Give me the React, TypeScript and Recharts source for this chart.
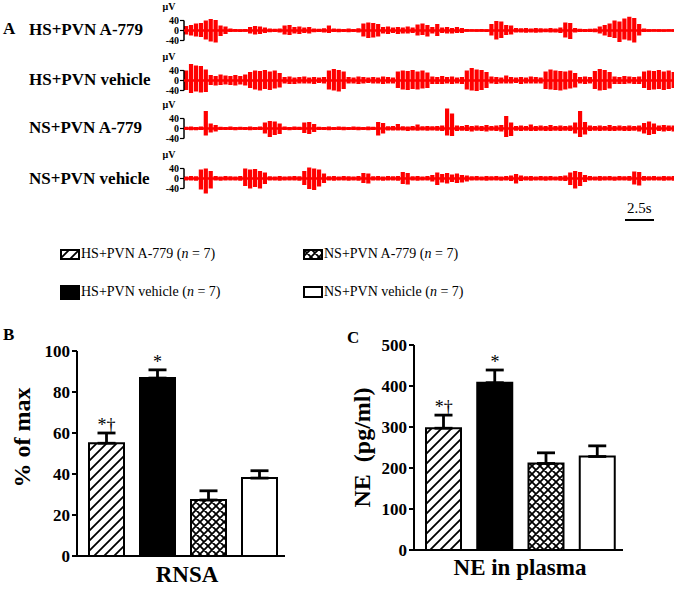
import React from "react";
import {
  ComposedChart,
  XAxis,
  YAxis,
  ReferenceLine,
  BarChart,
  Bar,
  Cell,
  ErrorBar,
  ReferenceDot,
} from "recharts";

const SERIF = "'Liberation Serif', 'Times New Roman', Times, serif";

// groups, n per group, significance marks
const groups = ["HS+PVN A-779", "HS+PVN vehicle", "NS+PVN A-779", "NS+PVN vehicle"];
const groupN = [7, 7, 7, 7];
const significance = ["*\u2020", "*", "", ""];

// panel B: RNSA, % of max
const rnsaMean = [55, 86.8, 27.3, 38];
const rnsaSem = [5, 4, 4.5, 3.6];
const rnsaTicks = [0, 20, 40, 60, 80, 100];

// panel C: NE in plasma, pg/ml
const neMean = [297, 408, 211, 228];
const neSem = [32, 31, 26, 26];
const neTicks = [0, 100, 200, 300, 400, 500];

// panel A: nerve recordings, envelope read per segment as [high, low] in µV
const traceTicks = [-40, 0, 40];
const traceHsA779 = [
  [18, -16], [22, -20], [28, -24], [30, -26], [40, -36], [46, -44], [42, -48], [20, -22], [16, -14], [8, -6],
  [6, -5], [5, -6], [6, -5], [14, -12], [18, -16], [16, -14], [12, -10], [8, -7], [7, -6], [8, -8],
  [20, -16], [22, -18], [14, -12], [16, -14], [12, -10], [14, -12], [8, -7], [7, -6], [9, -8], [20, -10],
  [8, -6], [7, -7], [6, -6], [8, -7], [6, -6], [9, -8], [28, -24], [32, -30], [30, -28], [26, -24],
  [14, -12], [16, -14], [12, -10], [14, -14], [12, -12], [16, -12], [12, -10], [24, -20], [28, -18], [22, -24],
  [14, -12], [26, -22], [12, -10], [14, -12], [10, -12], [14, -10], [10, -10], [6, -5], [5, -4], [5, -5],
  [6, -5], [5, -6], [26, -20], [38, -36], [36, -30], [22, -18], [20, -16], [10, -8], [9, -8], [10, -9],
  [8, -8], [10, -9], [9, -8], [8, -7], [10, -8], [8, -8], [12, -10], [32, -28], [30, -34], [10, -8],
  [7, -6], [6, -6], [7, -6], [8, -7], [16, -12], [22, -20], [28, -26], [40, -30], [36, -46], [48, -36],
  [55, -40], [50, -48], [26, -20], [8, -6], [5, -5], [5, -4], [5, -5], [4, -5], [5, -4], [5, -5],
];
const traceHsVehicle = [
  [40, -38], [66, -50], [60, -44], [58, -48], [44, -46], [22, -18], [18, -20], [24, -18], [20, -16], [18, -18],
  [22, -20], [18, -16], [24, -20], [34, -30], [40, -36], [38, -40], [42, -34], [36, -38], [40, -32], [30, -28],
  [14, -12], [16, -14], [12, -14], [14, -12], [16, -12], [12, -12], [14, -14], [12, -10], [14, -12], [40, -36],
  [46, -40], [42, -44], [36, -34], [14, -12], [12, -12], [16, -14], [14, -12], [12, -10], [14, -12], [12, -12],
  [16, -14], [14, -12], [12, -12], [36, -30], [40, -36], [38, -38], [42, -34], [36, -36], [40, -32], [32, -30],
  [16, -14], [14, -14], [18, -14], [14, -12], [16, -14], [12, -12], [14, -14], [40, -36], [50, -40], [44, -42],
  [42, -38], [34, -30], [16, -12], [14, -14], [12, -12], [20, -12], [14, -12], [12, -10], [14, -14], [12, -12],
  [16, -12], [14, -12], [12, -12], [36, -34], [44, -36], [40, -38], [38, -40], [36, -36], [40, -32], [30, -28],
  [14, -12], [16, -14], [14, -12], [38, -34], [46, -40], [42, -38], [34, -32], [16, -14], [14, -14], [18, -14],
  [16, -12], [14, -14], [16, -14], [36, -30], [40, -38], [38, -36], [42, -34], [36, -38], [40, -34], [34, -30],
];
const traceNsA779 = [
  [7, -6], [8, -7], [6, -7], [8, -6], [70, -28], [20, -16], [14, -12], [7, -6], [6, -6], [8, -6],
  [6, -7], [7, -5], [6, -6], [8, -7], [6, -6], [8, -6], [24, -20], [30, -34], [28, -26], [20, -22],
  [8, -6], [6, -7], [8, -6], [7, -6], [24, -18], [26, -22], [18, -14], [7, -6], [6, -6], [8, -7],
  [6, -6], [8, -6], [7, -7], [6, -6], [8, -6], [7, -7], [6, -6], [8, -7], [7, -6], [26, -28],
  [22, -20], [9, -8], [10, -8], [18, -8], [9, -8], [8, -10], [10, -8], [16, -9], [9, -8], [10, -9],
  [9, -8], [10, -9], [12, -10], [80, -28], [60, -30], [12, -10], [10, -9], [14, -10], [10, -12], [12, -9],
  [10, -10], [14, -12], [10, -9], [12, -10], [14, -12], [50, -34], [24, -30], [10, -9], [12, -10], [10, -9],
  [16, -10], [10, -10], [12, -9], [10, -10], [14, -10], [10, -9], [12, -10], [10, -9], [12, -10], [24, -20],
  [70, -34], [26, -24], [12, -10], [10, -9], [12, -10], [10, -9], [14, -10], [10, -10], [12, -9], [10, -10],
  [12, -10], [10, -9], [12, -12], [22, -20], [28, -26], [20, -22], [12, -10], [14, -12], [12, -10], [12, -12],
];
const traceNsVehicle = [
  [8, -8], [10, -8], [9, -9], [36, -44], [40, -60], [30, -40], [10, -8], [8, -9], [10, -8], [9, -8],
  [8, -8], [10, -9], [40, -30], [36, -40], [38, -34], [30, -40], [24, -22], [9, -8], [8, -8], [10, -9],
  [8, -8], [9, -8], [10, -8], [9, -9], [30, -26], [44, -42], [40, -46], [36, -32], [20, -18], [9, -8],
  [10, -9], [8, -8], [10, -8], [9, -9], [8, -8], [10, -9], [22, -18], [20, -20], [9, -8], [10, -8],
  [8, -9], [10, -8], [9, -8], [10, -9], [26, -22], [22, -24], [9, -8], [10, -9], [8, -8], [10, -8],
  [14, -12], [24, -26], [18, -16], [22, -20], [16, -14], [20, -18], [14, -16], [12, -12], [9, -8], [10, -8],
  [8, -8], [10, -9], [9, -8], [10, -8], [8, -9], [10, -8], [12, -10], [18, -20], [12, -10], [9, -8],
  [10, -9], [8, -8], [10, -8], [9, -9], [10, -8], [8, -8], [10, -9], [12, -10], [24, -26], [30, -40],
  [26, -30], [14, -14], [10, -8], [8, -8], [10, -9], [9, -8], [10, -8], [8, -9], [10, -8], [9, -8],
  [10, -9], [28, -24], [26, -28], [10, -9], [9, -8], [10, -8], [8, -8], [10, -9], [9, -8], [10, -9],
];

const traces = [traceHsA779, traceHsVehicle, traceNsA779, traceNsVehicle];
const traceCenters = [30, 80, 128, 178.5];

const groupFills = ["url(#hatch)", "#000", "url(#cross)", "#fff"];
const swatchHeights = [9, 13, 9, 10];

const UnitLabel = (props: any) => {
  const vb = props.viewBox ?? { x: 0, y: 10, width: 29, height: 45 };
  return (
    <text x={vb.x + vb.width - 15} y={vb.y + 2} textAnchor="middle" fontSize={10} fontWeight={700} fontFamily={SERIF} fill="#000">
      μV
    </text>
  );
};

function Trace({ pairs, center }: { pairs: number[][]; center: number }) {
  const data = pairs.map(([hi, lo], i) => ({ t: i, band: [lo, hi] }));
  return (
    <div style={{ position: "absolute", left: 155, top: center - 32.5 }}>
      <ComposedChart width={519} height={60} data={data} margin={{ top: 10, right: 0, bottom: 5, left: 0 }}>
        <XAxis type="number" dataKey="t" domain={[-0.5, 99]} hide />
        <YAxis
          type="number"
          domain={[-90, 90]}
          ticks={traceTicks}
          interval={0}
          width={29}
          axisLine={false}
          tickSize={4}
          tickMargin={1}
          tickLine={{ stroke: "#000", strokeWidth: 1.2 }}
          tick={{ fontSize: 10, fontWeight: 700, fill: "#000", fontFamily: SERIF }}
          label={<UnitLabel />}
        />
        <ReferenceLine segment={[{ x: -0.5, y: 40 }, { x: -0.5, y: -40 }]} stroke="#000" strokeWidth={1.5} />
        <ReferenceLine y={0} stroke="#ff0000" strokeWidth={2.5} />
        <Bar dataKey="band" fill="#ff0000" barSize={4.2} isAnimationActive={false} />
      </ComposedChart>
    </div>
  );
}

const XTitle = (props: any) => {
  const vb = props.viewBox ?? { x: 0, y: 0, width: 0, height: 0 };
  return (
    <text x={vb.x + vb.width / 2 + props.dx} y={vb.y + props.dy} textAnchor="middle" fontSize={23} fontWeight={700} fontFamily={SERIF} fill="#000">
      {props.value}
    </text>
  );
};

const YTitle = (props: any) => {
  const vb = props.viewBox ?? { x: 0, y: 0, width: 0, height: 0 };
  const cx = 22;
  const cy = vb.y + vb.height / 2 + props.dy;
  return (
    <text
      x={cx}
      y={cy}
      transform={`rotate(-90, ${cx}, ${cy})`}
      textAnchor="middle"
      dominantBaseline="central"
      fontSize={24}
      fontWeight={700}
      fontFamily={SERIF}
      fill="#000"
      style={{ whiteSpace: "pre" }}
    >
      {props.value}
    </text>
  );
};

interface PanelProps {
  means: number[];
  sems: number[];
  ticks: number[];
  yTitle: string;
  xTitle: string;
  left: number;
  marginTop: number;
  marginRight: number;
  axisWidth: number;
  xAxisHeight: number;
  yTitleDy: number;
  xTitleDx: number;
  xTitleDy: number;
}

function BarPanel(p: PanelProps) {
  const data = groups.map((g, i) => ({ name: g, mean: p.means[i], err: [0, p.sems[i]] }));
  return (
    <div style={{ position: "absolute", left: p.left, top: 330 }}>
      <BarChart
        width={300}
        height={261}
        data={data}
        barSize={35}
        margin={{ top: p.marginTop, right: p.marginRight, bottom: 0, left: 0 }}
      >
        <XAxis
          dataKey="name"
          tick={false}
          tickLine={false}
          axisLine={{ stroke: "#000", strokeWidth: 2 }}
          height={p.xAxisHeight}
          padding={{ left: 4, right: 0 }}
          label={<XTitle value={p.xTitle} dx={p.xTitleDx} dy={p.xTitleDy} />}
        />
        <YAxis
          domain={[0, p.ticks[p.ticks.length - 1]]}
          ticks={p.ticks}
          interval={0}
          width={p.axisWidth}
          tickSize={5}
          tickMargin={2}
          axisLine={{ stroke: "#000", strokeWidth: 2 }}
          tickLine={{ stroke: "#000", strokeWidth: 2 }}
          tick={{ fontSize: 17, fontWeight: 700, fill: "#000", fontFamily: SERIF }}
          label={<YTitle value={p.yTitle} dy={p.yTitleDy} />}
        />
        <Bar dataKey="mean" stroke="#000" strokeWidth={2} isAnimationActive={false}>
          {data.map((d, i) => (
            <Cell key={d.name} fill={groupFills[i]} />
          ))}
          <ErrorBar dataKey="err" direction="y" width={9} stroke="#000" strokeWidth={2.8} />
        </Bar>
        {data.map((d, i) =>
          significance[i] ? (
            <ReferenceDot
              key={d.name}
              x={d.name}
              y={p.means[i] + p.sems[i]}
              r={0}
              fill="none"
              stroke="none"
              label={{ value: significance[i], position: "top", offset: 2, fontSize: 18, fill: "#000", fontFamily: SERIF }}
            />
          ) : null
        )}
      </BarChart>
    </div>
  );
}

const textStyle: React.CSSProperties = {
  position: "absolute",
  fontFamily: SERIF,
  color: "#000",
  whiteSpace: "nowrap",
};

export default function App() {
  return (
    <div style={{ position: "absolute", left: 0, top: 0, width: 677, height: 591, background: "#fff", overflow: "hidden" }}>
      <svg width={0} height={0} style={{ position: "absolute" }}>
        <defs>
          <pattern id="hatch" patternUnits="userSpaceOnUse" width={10} height={10}>
            <rect width={10} height={10} fill="#fff" />
            <path d="M-2,2 L2,-2 M0,10 L10,0 M8,12 L12,8" stroke="#000" strokeWidth={1.8} />
          </pattern>
          <pattern id="cross" patternUnits="userSpaceOnUse" width={8} height={8}>
            <rect width={8} height={8} fill="#fff" />
            <path
              d="M-2,2 L2,-2 M0,8 L8,0 M6,10 L10,6 M-2,6 L2,10 M0,0 L8,8 M6,-2 L10,2"
              stroke="#000"
              strokeWidth={1.8}
            />
          </pattern>
        </defs>
      </svg>

      {/* panel A */}
      <div style={{ ...textStyle, left: 3, top: 19, fontSize: 17, fontWeight: 700, lineHeight: "20px" }}>A</div>
      {groups.map((g, i) => (
        <div key={g} style={{ ...textStyle, left: 29, top: traceCenters[i] - 10, fontSize: 17, fontWeight: 700, lineHeight: "20px" }}>
          {g}
        </div>
      ))}
      {traces.map((pairs, i) => (
        <Trace key={groups[i]} pairs={pairs} center={traceCenters[i]} />
      ))}
      <div style={{ ...textStyle, left: 627, top: 198, fontSize: 15, lineHeight: "20px" }}>2.5s</div>
      <div style={{ position: "absolute", left: 625, top: 219, width: 29, height: 2, background: "#000" }} />

      {/* legend */}
      <div
        style={{
          position: "absolute",
          left: 60,
          top: 235,
          display: "grid",
          gridAutoFlow: "column",
          gridTemplateRows: "38px 38px",
          gridTemplateColumns: "243px 220px",
        }}
      >
        {groups.map((g, i) => (
          <div key={g} style={{ display: "flex", alignItems: "center", fontFamily: SERIF, fontSize: 14 }}>
            <svg width={20} height={swatchHeights[i] + 2} style={{ marginRight: 1 }}>
              <rect x={1} y={1} width={18} height={swatchHeights[i]} fill={groupFills[i]} stroke="#000" strokeWidth={2} />
            </svg>
            <span>
              {g} (<i>n</i> = {groupN[i]})
            </span>
          </div>
        ))}
      </div>

      {/* panel B */}
      <div style={{ ...textStyle, left: 3, top: 325, fontSize: 17, fontWeight: 700, lineHeight: "20px" }}>B</div>
      <BarPanel
        means={rnsaMean}
        sems={rnsaSem}
        ticks={rnsaTicks}
        yTitle="% of max"
        xTitle="RNSA"
        left={0}
        marginTop={21}
        marginRight={15}
        axisWidth={77}
        xAxisHeight={35}
        yTitleDy={-16}
        xTitleDx={6}
        xTitleDy={26}
      />

      {/* panel C */}
      <div style={{ ...textStyle, left: 347, top: 328, fontSize: 17, fontWeight: 700, lineHeight: "20px" }}>C</div>
      <BarPanel
        means={neMean}
        sems={neSem}
        ticks={neTicks}
        yTitle="NE  (pg/ml)"
        xTitle="NE in plasma"
        left={340}
        marginTop={15}
        marginRight={17}
        axisWidth={74}
        xAxisHeight={41}
        yTitleDy={0}
        xTitleDx={1.5}
        xTitleDy={25}
      />
    </div>
  );
}
